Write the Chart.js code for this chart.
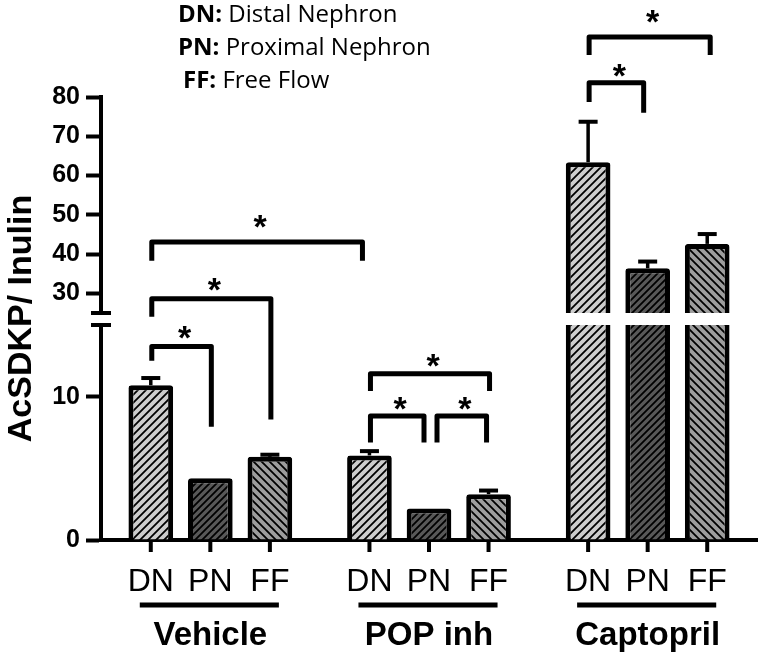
<!DOCTYPE html>
<html><head><meta charset="utf-8">
<script src="https://cdn.jsdelivr.net/npm/chart.js@4.4.1/dist/chart.umd.min.js"></script>
<style>html,body{margin:0;padding:0;background:#fff}#wrap{width:760px;height:658px;position:relative}</style>
</head><body><div id="wrap"><canvas id="c" width="760" height="658"></canvas></div>
<script>
// ---------- data ----------
const groups = ['Vehicle', 'POP inh', 'Captopril'];
const sites = ['DN', 'PN', 'FF'];
const dnMean = [10.8, 5.9, 63.4];
const dnSem  = [0.5, 0.3, 10.3];
const pnMean = [4.3, 2.2, 36.4];
const pnSem  = [0, 0, 1.7];
const ffMean = [5.8, 3.2, 42.6];
const ffSem  = [0.15, 0.25, 2.5];
const lowTicks = [0, 10];
const highTicks = [30, 40, 50, 60, 70, 80];
const yTitle = 'AcSDKP/ Inulin';
const legendLines = [['DN:', ' Distal Nephron'], ['PN:', ' Proximal Nephron'], ['FF:', ' Free Flow']];
// significance brackets: bar A (group, site) to bar B, heights in axis units
const brackets = [
  {a: [0, 0], b: [0, 1], top: 13.5, legA: 12.5, legB: 7.9, star: 14.7},
  {a: [0, 0], b: [0, 2], top: 28.6, legA: 21.8, legB: 8.4, star: 33.2},
  {a: [0, 0], b: [1, 0], top: 43.1, legA: 38.3, legB: 38.3, star: 49.2, dxB: -7},
  {a: [1, 0], b: [1, 1], top: 8.65, legA: 6.8, legB: 6.8, star: 9.8, dxB: -5},
  {a: [1, 1], b: [1, 2], top: 8.65, legA: 6.8, legB: 6.8, star: 9.8, dxA: 8, dxB: -2},
  {a: [1, 0], b: [1, 2], top: 11.6, legA: 10.4, legB: 10.4, star: 12.8},
  {a: [2, 0], b: [2, 1], top: 83.6, legA: 78.7, legB: 76.0, star: 87.6, dxB: -4},
  {a: [2, 0], b: [2, 2], top: 95.3, legA: 90.7, legB: 90.7, star: 101.4, dxB: 3}
];
const means = [dnMean, pnMean, ffMean];
const sems = [dnSem, pnSem, ffSem];

// ---------- styles ----------
const SANS = "'Liberation Sans', Arial, sans-serif";
function hatch(bg, dir, step, lw) {
  const c = document.createElement('canvas');
  c.width = step; c.height = step;
  const x = c.getContext('2d');
  x.fillStyle = bg; x.fillRect(0, 0, step, step);
  x.strokeStyle = '#000'; x.lineWidth = lw;
  x.beginPath();
  if (dir === '/') {
    x.moveTo(-step, step * 2); x.lineTo(step * 2, -step);
    x.moveTo(-step, step); x.lineTo(step, -step);
    x.moveTo(0, step * 2); x.lineTo(step * 2, 0);
  } else {
    x.moveTo(-step, -step); x.lineTo(step * 2, step * 2);
    x.moveTo(-step, 0); x.lineTo(step, step * 2);
    x.moveTo(0, -step); x.lineTo(step * 2, step);
  }
  x.stroke();
  return x.createPattern(c, 'repeat');
}
const fills = [hatch('#cdcdcd', '/', 8, 1.8), hatch('#585858', '/', 7, 1.8), hatch('#9d9d9d', '\\', 8, 1.8)];

function yPix(chart, v) {
  const lo = chart.scales.yLow, hi = chart.scales.yHigh;
  if (v <= lo.max) return lo.getPixelForValue(v);
  if (v >= hi.min) return hi.getPixelForValue(v);
  const t = (v - lo.max) / (hi.min - lo.max);
  return lo.top + (hi.bottom - lo.top) * t;
}
function barX(chart, g, s) {
  return chart.getDatasetMeta(s).data[g].x;
}

const datasets = [];
['yLow', 'yHigh'].forEach(axis => {
  sites.forEach((s, i) => {
    datasets.push({
      label: s, data: means[i], yAxisID: axis, stack: s,
      backgroundColor: fills[i], borderColor: '#000', borderWidth: 5,
      borderRadius: 3, borderSkipped: 'start',
      categoryPercentage: 0.817, barPercentage: 0.75
    });
  });
});

const segClip = {
  id: 'segClip',
  beforeDatasetDraw(chart, args) {
    const ds = chart.data.datasets[args.index];
    const sc = chart.scales[ds.yAxisID];
    const ctx = chart.ctx;
    ctx.save(); ctx.beginPath();
    if (ds.yAxisID === 'yHigh') ctx.rect(0, 0, chart.width, sc.bottom);
    else ctx.rect(0, sc.top, chart.width, chart.height - sc.top);
    ctx.clip();
  },
  afterDatasetDraw(chart) { chart.ctx.restore(); }
};

const decor = {
  id: 'decor',
  afterDatasetsDraw(chart) {
    const ctx = chart.ctx;
    ctx.save();
    ctx.strokeStyle = '#000'; ctx.fillStyle = '#000';
    // error bars (upper SEM only)
    for (let s = 0; s < 3; s++) for (let g = 0; g < 3; g++) {
      const e = sems[s][g]; if (!e) continue;
      const x = barX(chart, g, s);
      const y0 = yPix(chart, means[s][g]), y1 = yPix(chart, means[s][g] + e);
      ctx.lineWidth = 3.5; ctx.beginPath(); ctx.moveTo(x, y0); ctx.lineTo(x, y1); ctx.stroke();
      ctx.lineWidth = 4; ctx.beginPath(); ctx.moveTo(x - 9.5, y1); ctx.lineTo(x + 9.5, y1); ctx.stroke();
    }
    // brackets
    ctx.lineJoin = 'round';
    ctx.font = 'bold 34px ' + SANS; ctx.textAlign = 'center'; ctx.textBaseline = 'alphabetic';
    brackets.forEach(b => {
      const x1 = barX(chart, b.a[0], b.a[1]) + (b.dxA || 1);
      const x2 = barX(chart, b.b[0], b.b[1]) + (b.dxB || 1);
      const yt = yPix(chart, b.top);
      ctx.lineWidth = 5;
      ctx.beginPath();
      ctx.moveTo(x1, yPix(chart, b.legA)); ctx.lineTo(x1, yt); ctx.lineTo(x2, yt); ctx.lineTo(x2, yPix(chart, b.legB));
      ctx.stroke();
      ctx.fillText('*', (x1 + x2) / 2 + 3, yPix(chart, b.star) + 20);
    });
    ctx.restore();
  },
  afterDraw(chart) {
    const ctx = chart.ctx, ca = chart.chartArea;
    ctx.save();
    ctx.strokeStyle = '#000'; ctx.fillStyle = '#000';
    // axis break marks
    const lo = chart.scales.yLow, hi = chart.scales.yHigh;
    const ax = lo.right;
    ctx.lineWidth = 4;
    [hi.bottom, lo.top].forEach(y => { ctx.beginPath(); ctx.moveTo(ax - 10, y); ctx.lineTo(ax + 10, y); ctx.stroke(); });
    // x tick marks and labels
    ctx.textAlign = 'center'; ctx.textBaseline = 'alphabetic';
    for (let g = 0; g < 3; g++) {
      for (let s = 0; s < 3; s++) {
        const x = barX(chart, g, s);
        ctx.lineWidth = 4;
        ctx.beginPath(); ctx.moveTo(x, ca.bottom); ctx.lineTo(x, ca.bottom + 12); ctx.stroke();
        ctx.font = '32px ' + SANS;
        ctx.fillText(sites[s], x, 591);
      }
      const xa = barX(chart, g, 0) - 11, xb = barX(chart, g, 2) + 9;
      ctx.lineWidth = 5;
      ctx.beginPath(); ctx.moveTo(xa, 605); ctx.lineTo(xb, 605); ctx.stroke();
      ctx.font = 'bold 33px ' + SANS;
      ctx.fillText(groups[g], chart.scales.x.getPixelForValue(g), 645);
    }
    // y title
    ctx.save();
    ctx.translate(22, (hi.top + lo.bottom) / 2);
    ctx.rotate(-Math.PI / 2);
    ctx.textBaseline = 'middle'; ctx.font = 'bold 34px ' + SANS;
    ctx.fillText(yTitle, 0, 0);
    ctx.restore();
    // legend text
    ctx.textAlign = 'left';
    const lx = [178, 178, 183], ly = [22, 55, 88];
    legendLines.forEach((l, i) => {
      ctx.font = 'bold 24px "Open Sans", sans-serif';
      ctx.fillText(l[0], lx[i], ly[i]);
      const w = ctx.measureText(l[0]).width;
      ctx.font = '24px "Open Sans", sans-serif';
      ctx.fillText(l[1], lx[i] + w, ly[i]);
    });
    ctx.restore();
  }
};

const yCommon = {
  type: 'linear', position: 'left', stack: 'v',
  grid: {drawOnChartArea: false, drawTicks: true, tickLength: 15, tickWidth: 4, tickColor: '#000'},
  border: {width: 4, color: '#000'},
  ticks: {font: {family: SANS, size: 25, weight: 'bold'}, color: '#000', padding: 6, autoSkip: false},
  afterFit(s) { s.width = 101; }
};

new Chart(document.getElementById('c'), {
  type: 'bar',
  data: {labels: groups, datasets},
  options: {
    responsive: false, animation: false, devicePixelRatio: 1,
    layout: {padding: {top: 97, right: 3, left: 0, bottom: 0}},
    plugins: {legend: {display: false}, tooltip: {enabled: false}},
    scales: {
      x: {type: 'category', position: 'bottom', grid: {display: false},
          border: {display: true, width: 4, color: '#000'}, ticks: {display: false},
          afterFit(s) { s.height = 118; }},
      yLow: Object.assign({}, yCommon, {stackWeight: 215, min: 0, max: 15,
          afterBuildTicks(s) { s.ticks = lowTicks.map(v => ({value: v})); }}),
      yGap: {type: 'linear', position: 'left', stack: 'v', stackWeight: 12, min: 0, max: 1,
          grid: {display: false}, border: {display: false}, ticks: {display: false},
          afterFit(s) { s.width = 101; }},
      yHigh: Object.assign({}, yCommon, {stackWeight: 216, min: 25, max: 80,
          afterBuildTicks(s) { s.ticks = highTicks.map(v => ({value: v})); }})
    }
  },
  plugins: [segClip, decor]
});
</script></body></html>
